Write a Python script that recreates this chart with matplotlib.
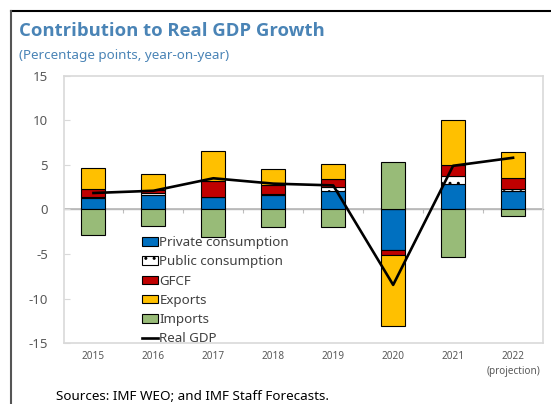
import numpy as np
import matplotlib.pyplot as plt
from matplotlib.lines import Line2D
from matplotlib.patches import Patch

plt.rcParams['font.family'] = ['Noto Sans', 'DejaVu Sans']
plt.rcParams['axes.unicode_minus'] = False

# Data (percentage points)
years = ['2015', '2016', '2017', '2018', '2019', '2020', '2021', '2022\n(projection)']
private = [1.25, 1.65, 1.4, 1.65, 2.1, -4.5, 2.9, 2.1]
public = [0.2, 0.2, 0.05, 0.1, 0.45, 0.0, 0.85, 0.2]
gfcf = [0.9, 0.3, 1.75, 1.0, 0.85, -0.55, 1.2, 1.2]
exports = [2.35, 1.85, 3.4, 1.8, 1.75, -8.0, 5.05, 3.0]
imports = [-2.85, -1.9, -3.1, -2.0, -2.0, 5.3, -5.35, -0.75]
real_gdp = [1.85, 2.1, 3.5, 2.9, 2.7, -8.45, 4.9, 5.8]

series = [
    ('Private consumption', private, '#0070C0', None),
    ('Public consumption', public, 'white', '..'),
    ('GFCF', gfcf, '#C00000', None),
    ('Exports', exports, '#FFC000', None),
    ('Imports', imports, '#98BB78', None),
]

blue = '#4A84B6'
grey = '#595959'
frame = '#D9D9D9'

fig = plt.figure(figsize=(5.51, 4.04), dpi=100)
ax = fig.add_axes([63.5 / 551, 1 - 343.3 / 404, (543 - 63.5) / 551, (343.3 - 75.7) / 404])

x = np.arange(len(years))
pos_base = np.zeros(len(years))
neg_base = np.zeros(len(years))
handles = []
for name, vals, color, hatch in series:
    vals = np.array(vals)
    bottom = np.where(vals >= 0, pos_base, neg_base)
    ax.bar(x, vals, 0.4, bottom=bottom, color=color, edgecolor='black',
           linewidth=0.8, hatch=hatch, zorder=2)
    pos_base += np.clip(vals, 0, None)
    neg_base += np.clip(vals, None, 0)
    handles.append(Patch(facecolor=color, edgecolor='black', linewidth=0.8,
                         hatch=hatch, label=name))

ax.plot(x, real_gdp, color='black', linewidth=1.9, zorder=3)
handles.append(Line2D([], [], color='black', linewidth=1.9, label='Real GDP'))

ax.set_xlim(-0.5, len(years) - 0.5)
ax.set_ylim(-15, 15)
ax.set_yticks(np.arange(-15, 16, 5))
ax.set_xticks(x)
ax.set_xticklabels(years, fontsize=7.2, color=grey, linespacing=1.5)
ax.tick_params(axis='x', length=0, pad=5.5)
ax.tick_params(axis='y', direction='in', length=4, color=frame, labelsize=9.5,
               labelcolor=grey, pad=11)
for s in ax.spines.values():
    s.set_color(frame)
    s.set_linewidth(1.2)

# zero line with category separators
ax.axhline(0, color='#BFBFBF', linewidth=1.4, zorder=1)
sec = ax.secondary_xaxis(0.5)
sec.set_xticks(x[:-1] + 0.5)
sec.set_xticklabels([])
sec.tick_params(direction='in', length=3, color='#BFBFBF', labelbottom=False, labeltop=False)
sec.spines['bottom'].set_visible(False)

ax.legend(handles=handles, loc='upper left', bbox_to_anchor=(142 / 551, 1 - 236 / 404),
          bbox_transform=fig.transFigure, frameon=False, fontsize=9.6,
          labelcolor='#404040', handlelength=1.2, handleheight=0.6,
          handletextpad=0.1, labelspacing=0.47, borderpad=0, borderaxespad=0)

fig.text(19 / 551, 1 - 31 / 404, 'Contribution to Real GDP Growth', fontsize=13.3,
         fontweight='bold', family=['Open Sans', 'DejaVu Sans'], color=blue, va='center')
fig.text(19 / 551, 1 - 55 / 404, '(Percentage points, year-on-year)', fontsize=9.7,
         color=blue, va='center')
fig.text(56 / 551, 1 - 396 / 404, 'Sources: IMF WEO; and IMF Staff Forecasts.',
         fontsize=9.7, color='black', va='center')

# outer box
fig.add_artist(Line2D([11 / 551, 1], [1 - 11 / 404] * 2, transform=fig.transFigure,
                      color='black', linewidth=1.5))
fig.add_artist(Line2D([11 / 551] * 2, [0, 1 - 11 / 404], transform=fig.transFigure,
                      color='#555555', linewidth=1.5))

fig.savefig('out.png', dpi=100)
